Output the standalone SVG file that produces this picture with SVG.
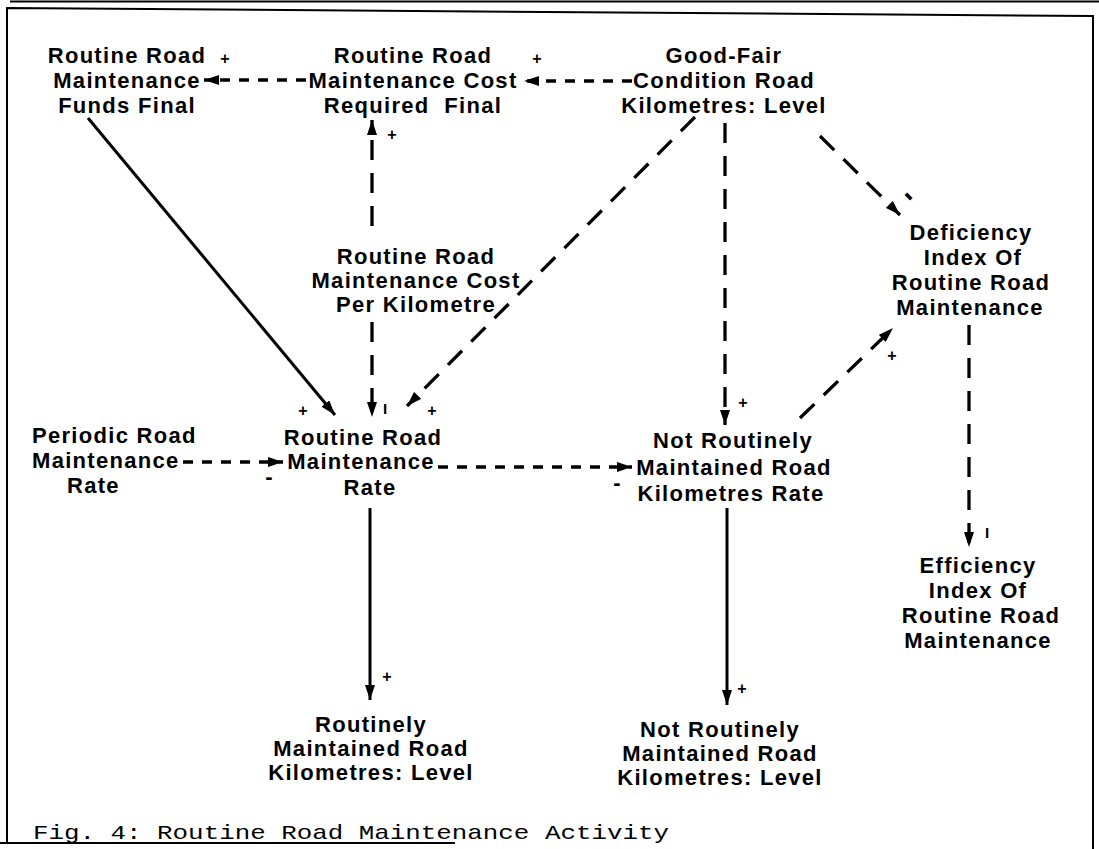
<svg xmlns="http://www.w3.org/2000/svg" width="1099" height="849" viewBox="0 0 1099 849">
<style>
.t{font-family:"Liberation Sans",Arial,sans-serif;font-weight:bold;font-size:22px;letter-spacing:1.3px;text-anchor:middle;fill:#000;white-space:pre}
.ts{font-family:"Liberation Sans",Arial,sans-serif;font-weight:bold;font-size:22px;letter-spacing:1.3px;fill:#000}
.s{font-family:"Liberation Sans",Arial,sans-serif;font-weight:bold;font-size:16px;text-anchor:middle;fill:#000}
.bar{font-family:"Liberation Sans",Arial,sans-serif;font-weight:bold;font-size:15px;text-anchor:middle;fill:#000}
.mi{font-family:"Liberation Sans",Arial,sans-serif;font-weight:bold;font-size:22px;text-anchor:middle;fill:#000}
.cap{font-family:"Liberation Mono","Courier New",monospace;font-size:21px;fill:#000}
.d{fill:none;stroke:#000;stroke-width:3.3;stroke-dasharray:20 13}
.dh{fill:none;stroke:#000;stroke-width:3.3;stroke-dasharray:10 9}
.sl{fill:none;stroke:#000;stroke-width:3}
.fr{fill:none;stroke:#000;stroke-width:2}
</style>
<defs>
<marker id="ah" viewBox="0 0 15 10" refX="15" refY="5" markerWidth="15" markerHeight="10" markerUnits="userSpaceOnUse" orient="auto">
<path d="M0,0 L15,5 L0,10 z" fill="#000"/>
</marker>
</defs>
<rect width="1099" height="849" fill="#fff"/>
<g id="frame">
<line class="fr" x1="10" y1="1.5" x2="1099" y2="1.5"/>
<polyline class="fr" points="7,843 7,8 1093,16 1093,849"/>
<line class="fr" x1="0" y1="843" x2="455" y2="843"/>
</g>
<g id="connectors">
<line class="dh" x1="306" y1="80" x2="204" y2="80" marker-end="url(#ah)"/>
<line class="dh" x1="632" y1="81" x2="524" y2="81" stroke-dasharray="12 14"/>
<line x1="560" y1="81" x2="524" y2="81" stroke="none" marker-end="url(#ah)"/>
<line class="d" x1="372" y1="226" x2="372" y2="120" stroke-dasharray="20 10" marker-end="url(#ah)"/>
<line class="d" x1="372" y1="322" x2="372" y2="417" stroke-dasharray="20 10" marker-end="url(#ah)"/>
<line class="sl" x1="88" y1="118" x2="335" y2="415" marker-end="url(#ah)"/>
<line class="d" x1="695" y1="117" x2="407" y2="406" marker-end="url(#ah)"/>
<line class="d" x1="725" y1="123" x2="725" y2="425" marker-end="url(#ah)"/>
<line class="d" x1="820" y1="136" x2="900" y2="215" stroke-dasharray="22 14" marker-end="url(#ah)"/>
<line class="d" x1="800" y1="418" x2="893" y2="328" stroke-dasharray="18 14" marker-end="url(#ah)"/>
<line class="d" x1="969" y1="325" x2="969" y2="547" stroke-dasharray="22 17" marker-end="url(#ah)"/>
<line class="dh" x1="183" y1="462" x2="283" y2="462" marker-end="url(#ah)"/>
<line class="dh" x1="438" y1="467" x2="632" y2="467" stroke-dasharray="10 14" marker-end="url(#ah)"/>
<line class="sl" x1="370" y1="508" x2="370" y2="700" marker-end="url(#ah)"/>
<line class="sl" x1="727" y1="508" x2="727" y2="705" marker-end="url(#ah)"/>
<text class="s" x="225" y="64">+</text>
<text class="s" x="537" y="64">+</text>
<text class="s" x="392" y="140">+</text>
<text class="bar" x="385" y="414">I</text>
<text class="s" x="303" y="416">+</text>
<text class="s" x="432" y="416">+</text>
<text class="s" x="743" y="408">+</text>
<text class="mi" style="font-size:30px" transform="translate(903,202) rotate(45)">-</text>
<text class="s" x="892" y="361">+</text>
<text class="bar" x="987" y="538">I</text>
<text class="mi" x="269" y="484">-</text>
<text class="mi" x="617" y="490">-</text>
<text class="s" x="387" y="682">+</text>
<text class="s" x="742" y="694">+</text>
</g>
<g id="n-funds">
<text class="t" x="127" y="63">Routine Road</text>
<text class="t" x="127" y="88">Maintenance</text>
<text class="t" x="127" y="113">Funds Final</text>
</g>
<g id="n-costreq">
<text class="t" x="413" y="63">Routine Road</text>
<text class="t" x="413" y="88">Maintenance Cost</text>
<text class="t" x="413" y="113">Required  Final</text>
</g>
<g id="n-goodfair">
<text class="t" x="724" y="63">Good-Fair</text>
<text class="t" x="724" y="88">Condition Road</text>
<text class="t" x="724" y="113">Kilometres: Level</text>
</g>
<g id="n-costkm">
<text class="t" x="416" y="264">Routine Road</text>
<text class="t" x="416" y="288">Maintenance Cost</text>
<text class="t" x="416" y="312">Per Kilometre</text>
</g>
<g id="n-periodic">
<text class="ts" x="32" y="443">Periodic Road</text>
<text class="ts" x="32" y="468">Maintenance</text>
<text class="ts" x="67" y="493">Rate</text>
</g>
<g id="n-rate">
<text class="t" x="363" y="445">Routine Road</text>
<text class="t" x="361" y="469">Maintenance</text>
<text class="t" x="370" y="495">Rate</text>
</g>
<g id="n-notrate">
<text class="t" x="733" y="448">Not Routinely</text>
<text class="t" x="734" y="475">Maintained Road</text>
<text class="t" x="731" y="501">Kilometres Rate</text>
</g>
<g id="n-deficiency">
<text class="t" x="971" y="240">Deficiency</text>
<text class="t" x="973" y="265">Index Of</text>
<text class="t" x="971" y="290">Routine Road</text>
<text class="t" x="970" y="315">Maintenance</text>
</g>
<g id="n-efficiency">
<text class="t" x="978" y="573">Efficiency</text>
<text class="t" x="978" y="598">Index Of</text>
<text class="t" x="981" y="623">Routine Road</text>
<text class="t" x="978" y="648">Maintenance</text>
</g>
<g id="n-routinelevel">
<text class="t" x="371" y="732">Routinely</text>
<text class="t" x="371" y="756">Maintained Road</text>
<text class="t" x="371" y="780">Kilometres: Level</text>
</g>
<g id="n-notlevel">
<text class="t" x="720" y="737">Not Routinely</text>
<text class="t" x="720" y="761">Maintained Road</text>
<text class="t" x="720" y="785">Kilometres: Level</text>
</g>
<g id="caption">
<text class="cap" x="33" y="839" textLength="636" lengthAdjust="spacingAndGlyphs">Fig. 4: Routine Road Maintenance Activity</text>
</g>
</svg>
